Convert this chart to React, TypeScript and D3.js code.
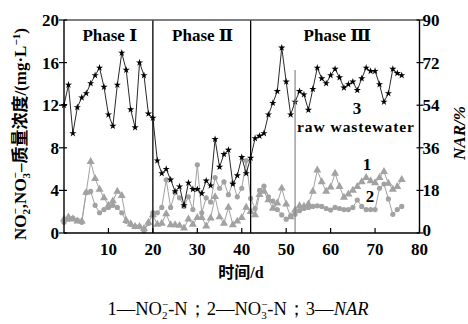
import React from "react";
import * as d3 from "d3";

// NAR (%) per day, day 0..76
const narValues = [54,62.6,42.1,53.1,57.2,59.0,63.2,66.6,69.8,61.7,50.0,45.2,62.6,76.1,68.9,52.2,44.6,72,66.6,50.4,48.6,30.6,25.2,27,22.5,17.6,19.6,11.7,21.2,18.5,18.5,16.7,22.1,20,39.6,27.9,33.3,35.1,20.7,24.3,32,25.2,31.7,40,41,42.1,50,54.9,59.9,78.3,63.9,50,55.4,59.9,58.5,52,60.8,69.8,65.3,63.2,66.6,69.3,65.7,61.4,62.8,63.9,60.3,65.3,69.8,68.4,68.4,62.8,55.4,59,69.3,67.5,66.6];
// NO2- -N (mg/L), series 1, triangles
const no2Values = [1.3,1.5,1.3,1.1,1.1,3.8,6.7,5.1,4.1,3.3,2.6,3.0,3.9,3.5,1.15,0.85,0.6,0.6,0.4,1.0,1.7,
  0.8,0.9,1.8,0.75,0.75,0.7,0.45,1.3,0.8,1.45,1.45,0.65,1.4,3.4,1.5,0.9,2.4,0.75,1.1,1.45,2.4,
  2.0,1.7,3.6,3.9,3.1,2.3,2.8,4.2,2.7,1.5,2.15,2.55,2.5,2.7,3.9,5.9,4.8,3.9,4.3,5.6,4.35,3.35,3.65,4.0,4.35,4.8,5.2,4.9,4.7,5.2,5.75,4.65,4.1,4.35,5.0];
// NO3- -N (mg/L), series 2, circles
const no3Values = [1.0,1.3,1.4,1.2,1.0,3.8,3.9,2.6,1.9,2.2,2.4,2.6,2.4,1.9,1.1,0.8,0.6,0.6,0.2,0.9,1.9,
  1.9,2.4,5.0,2.4,3.8,3.3,2.5,3.4,2.2,6.4,1.9,3.3,2.9,5.2,4.2,4.8,3.6,4.7,3.4,4.2,6.8,
  3.25,2.3,4.0,4.4,3.4,3.0,2.2,1.7,1.3,1.6,1.75,2.1,2.3,2.4,2.5,2.55,2.5,2.3,2.15,2.4,2.3,2.2,2.2,2.4,3.1,2.5,2.2,2.2,2.2,4.2,4.6,3.2,1.75,2.2,2.5];

const xTicks = [10,20,30,40,50,60,70,80];
const leftTicks = [0,4,8,12,16,20];
const rightTicks = [0,18,36,54,72,90];
const phaseBounds = [20, 42];
const rawDay = 52;
const phaseLabels = [
  { day: 10.3, text: "Phase Ⅰ" },
  { day: 31.2, text: "Phase Ⅱ" },
  { day: 61.5, text: "Phase Ⅲ" },
];

const W = 468, H = 324;
const L = 64, R = 419.5, T = 20, B = 233;
const serif = "Liberation Serif, DejaVu Serif, serif";
const cjk = "Noto Sans CJK SC, sans-serif";
const gray = "#a2a2a2";

export default function App() {
  const x = d3.scaleLinear().domain([0, 80]).range([L, R]);
  const yL = d3.scaleLinear().domain([0, 20]).range([B, T]);
  const yR = d3.scaleLinear().domain([0, 90]).range([B, T]);

  const lineL = d3.line<number>().x((_, i) => x(i)).y((v) => yL(v));
  const lineR = d3.line<number>().x((_, i) => x(i)).y((v) => yR(v));
  const star = d3.symbol().type(d3.symbolStar).size(16)() as string;
  const tri = d3.symbol().type(d3.symbolTriangle).size(28)() as string;

  const sub = (s: string, fs: number) => [
    <tspan key="a" fontSize={fs} dy={3.5}>{s}</tspan>,
    <tspan key="b" fontSize={fs} dy={-10.5} dx={-fs * 0.5}>−</tspan>,
  ];

  return (
    <svg width={W} height={H} style={{ position: "absolute", left: 0, top: 0, background: "#fff" }}>
      {/* gray series */}
      <path d={lineL(no2Values) as string} fill="none" stroke={gray} strokeWidth={1} />
      <path d={lineL(no3Values) as string} fill="none" stroke={gray} strokeWidth={1} />
      {no2Values.map((v, i) => (
        <path key={"t" + i} d={tri} transform={`translate(${x(i)},${yL(v)})`} fill={gray} />
      ))}
      {no3Values.map((v, i) => (
        <circle key={"c" + i} cx={x(i)} cy={yL(v)} r={2.6} fill={gray} />
      ))}
      {/* NAR */}
      <path d={lineR(narValues) as string} fill="none" stroke="#111" strokeWidth={0.9} />
      {narValues.map((v, i) => (
        <path key={"s" + i} d={star} transform={`translate(${x(i)},${yR(v)})`} fill="#000" />
      ))}

      {/* raw wastewater line */}
      <line x1={x(rawDay)} x2={x(rawDay)} y1={70} y2={B} stroke="#888" strokeWidth={1.2} />
      {/* phase dividers */}
      {phaseBounds.map((d) => (
        <line key={d} x1={x(d)} x2={x(d)} y1={T} y2={B} stroke="#000" strokeWidth={1.3} />
      ))}

      {/* frame */}
      <line x1={L} x2={R} y1={T} y2={T} stroke="#555" strokeWidth={1.6} />
      <line x1={L} x2={R} y1={B} y2={B} stroke="#000" strokeWidth={1.4} />
      <line x1={L} x2={L} y1={T} y2={B} stroke="#000" strokeWidth={1.4} />
      <line x1={R} x2={R} y1={T} y2={B} stroke="#000" strokeWidth={1.4} />

      {/* x ticks */}
      {xTicks.map((t) => (
        <g key={"xt" + t}>
          <line x1={x(t)} x2={x(t)} y1={B} y2={B - 5} stroke="#000" strokeWidth={1.2} />
          <text x={x(t)} y={255} textAnchor="middle" fontFamily={serif} fontWeight="bold" fontSize={17}>{t}</text>
        </g>
      ))}
      {/* left ticks */}
      {leftTicks.map((t) => (
        <g key={"lt" + t}>
          <line x1={L - 5} x2={L + 3} y1={yL(t)} y2={yL(t)} stroke="#000" strokeWidth={1.2} />
          <text x={L - 5} y={yL(t) + 6} textAnchor="end" fontFamily={serif} fontWeight="bold" fontSize={17}>{t}</text>
        </g>
      ))}
      {/* right ticks */}
      {rightTicks.map((t) => (
        <g key={"rt" + t}>
          <line x1={R - 3} x2={R + 4} y1={yR(t)} y2={yR(t)} stroke="#000" strokeWidth={1.2} />
          <text x={R + 3} y={yR(t) + (t === 0 ? 3 : 6)} textAnchor="start" fontFamily={serif} fontWeight="bold" fontSize={17}>{t}</text>
        </g>
      ))}

      {/* phase labels */}
      {phaseLabels.map((p) => (
        <text key={p.text} x={x(p.day)} y={41} textAnchor="middle" fontFamily={serif} fontWeight="bold" fontSize={17}>{p.text}</text>
      ))}
      <text x={297} y={132} fontFamily={serif} fontWeight="bold" fontSize={15.5} textLength={117}>raw wastewater</text>
      <text x={357} y={114} textAnchor="middle" fontFamily={serif} fontWeight="bold" fontSize={17}>3</text>
      <text x={367} y={170} textAnchor="middle" fontFamily={serif} fontWeight="bold" fontSize={17}>1</text>
      <text x={370} y={202} textAnchor="middle" fontFamily={serif} fontWeight="bold" fontSize={17}>2</text>

      {/* axis titles */}
      <text x={241} y={278} textAnchor="middle" fontWeight="bold" fontSize={16}>
        <tspan fontFamily={cjk}>时间</tspan><tspan fontFamily={serif}>/d</tspan>
      </text>
      <text transform="translate(26,134) rotate(-90)" textAnchor="middle" fontWeight="bold" fontSize={17} fontFamily={serif}>
        <tspan>NO</tspan>{sub("2", 11)}<tspan dy={7}>,NO</tspan>{sub("3", 11)}<tspan dy={7}>–</tspan><tspan fontFamily={cjk}>质量浓度</tspan><tspan>/(mg·L</tspan><tspan fontSize={11} dy={-6}>−1</tspan><tspan dy={6}>)</tspan>
      </text>
      <text transform="translate(465,133) rotate(-90)" textAnchor="middle" fontWeight="bold" fontStyle="italic" fontSize={17} fontFamily={serif}>NAR/%</text>

      {/* caption */}
      <text x={238} y={315} textAnchor="middle" fontFamily={serif} fontSize={18.5}>
        <tspan>1—NO</tspan>{sub("2", 11)}<tspan dy={7}>-N；2—NO</tspan>{sub("3", 11)}<tspan dy={7}>-N；3—</tspan><tspan fontStyle="italic">NAR</tspan>
      </text>
    </svg>
  );
}
